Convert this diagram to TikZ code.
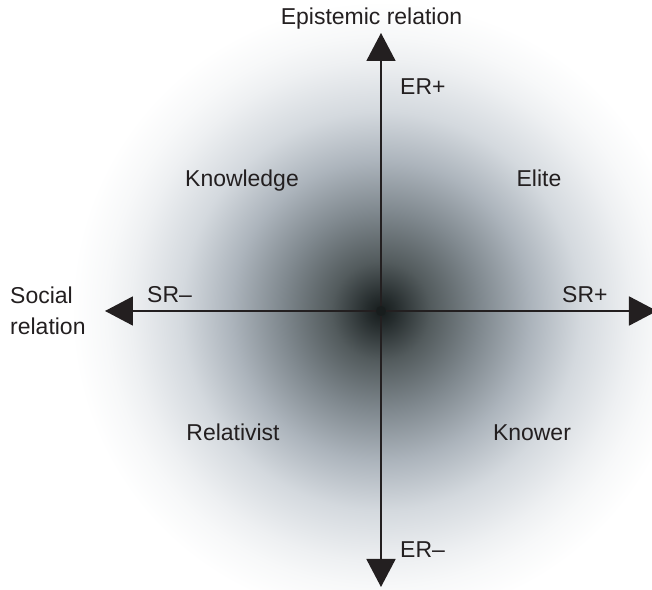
\documentclass[tikz,border=0pt]{standalone}
\usepackage{fontspec}
\setmainfont{Liberation Sans}
\usepackage{tikz}
\usetikzlibrary{arrows.meta}
\definecolor{ink}{RGB}{35,31,32}
\definecolor{core}{RGB}{24,29,29}
% dark centre fading out to white at the rim
\pgfdeclareradialshading{plane}{\pgfpoint{0bp}{0bp}}{%
  rgb(0bp)=(.086,.110,.110);
  rgb(1.2bp)=(.149,.176,.180);
  rgb(4bp)=(.325,.357,.365);
  rgb(8.1bp)=(.502,.537,.561);
  rgb(12.1bp)=(.675,.706,.737);
  rgb(16.1bp)=(.831,.851,.871);
  rgb(20.2bp)=(.933,.941,.949);
  rgb(22.2bp)=(.969,.973,.976);
  rgb(25bp)=(1,1,1);
  rgb(50bp)=(1,1,1)}
\tikzset{
  axis/.style={draw=ink, line width=0.55mm,
               {Triangle[length=8.4mm, width=8.7mm]}-{Triangle[length=8.4mm, width=8.7mm]}},
  pole/.style={font=\fontsize{19.6}{27}\selectfont, text=ink, inner sep=0pt, anchor=base west},
  quad/.style={font=\fontsize{19.6}{27}\selectfont, text=ink, inner sep=0pt, anchor=base},
}

\begin{document}
\begin{tikzpicture}
  \useasboundingbox (-11.43,-8.37) rectangle (8.13,9.33);
  \shade[shading=plane] (0,0) circle (9.3);
  % axis ends
  \coordinate (ertop) at (0,8.34);
  \coordinate (erbot) at (0,-8.28);
  \coordinate (srleft) at (-8.28,0);
  \coordinate (srright) at (8.28,0);
  \draw[axis] (srleft) -- (srright);
  \draw[axis] (erbot) -- (ertop);
  \fill[core] (0,0) circle (0.15);
  % axis names and poles
  \node[quad] (ername) at (-0.285,8.58) {Epistemic relation};
  \node[pole, align=left] (srname) at (-11.13,-0.72) {Social\\relation};
  \node[pole] (erplus) at (0.57,6.48) {ER+};
  \node[pole] (erminus) at (0.57,-7.41) {ER--};
  \node[pole] (srminus) at (-7.02,0.24) {SR--};
  \node[pole] (srplus) at (5.43,0.24) {SR+};
  % quadrants
  \node[quad] (knowledge) at (-4.17,3.72) {Knowledge};
  \node[quad] (elite) at (4.74,3.72) {Elite};
  \node[quad] (relativist) at (-4.44,-3.9) {Relativist};
  \node[quad] (knower) at (4.53,-3.9) {Knower};
\end{tikzpicture}
\end{document}
